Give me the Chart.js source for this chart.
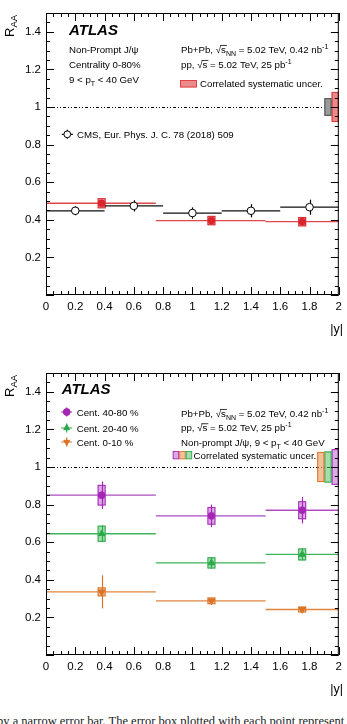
<!DOCTYPE html>
<html>
<head>
<meta charset="utf-8">
<script src="https://cdn.jsdelivr.net/npm/chart.js@4.4.0/dist/chart.umd.min.js"></script>
<style>
  body { margin: 0; background: #fff; width: 347px; height: 724px; overflow: hidden; position: relative; }
  canvas { position: absolute; left: 0; }
  #c1 { top: 0; }
  #c2 { top: 360px; }
  #caption { position: absolute; left: -3px; top: 714px; font: 12.5px "Liberation Serif", serif; white-space: nowrap; color: #222; }
</style>
</head>
<body>
<canvas id="c1" width="347" height="350"></canvas>
<canvas id="c2" width="347" height="350"></canvas>
<div id="caption">by a narrow error bar. The error box plotted with each point represent</div>
<script>
// ---- top panel: centrality 0-80%, ATLAS vs CMS ----
const cmsEdges = [0, 0.4, 0.8, 1.2, 1.6, 2.0];
const cmsX = [0.2, 0.6, 1.0, 1.4, 1.8];
const cmsRaa = [0.448, 0.474, 0.436, 0.448, 0.467];
const cmsErr = [0.024, 0.03, 0.03, 0.035, 0.04];

const atlasEdges = [0, 0.75, 1.5, 2.0];
const atlasX = [0.38, 1.13, 1.75];
const atlasRaa = [0.488, 0.396, 0.39];
const atlasStat = [0.015, 0.012, 0.012];
const atlasSyst = [0.027, 0.025, 0.025];
const corrCms = 0.047;
const corrAtlas = 0.08;

// ---- bottom panel: centrality classes ----
const centLabels = ['Cent. 40-80 %', 'Cent. 20-40 %', 'Cent. 0-10 %'];
const centEdges = [0, 0.75, 1.5, 2.0];
const centX = [0.38, 1.13, 1.75];
const raa4080 = [0.85, 0.74, 0.77];
const stat4080 = [0.073, 0.06, 0.07];
const syst4080 = [0.055, 0.047, 0.048];
const raa2040 = [0.645, 0.49, 0.535];
const stat2040 = [0.045, 0.03, 0.032];
const syst2040 = [0.043, 0.03, 0.032];
const raa010 = [0.336, 0.288, 0.242];
const stat010 = [0.088, 0.012, 0.01];
const syst010 = [0.024, 0.018, 0.016];
const centCorr = [0.095, 0.083, 0.08]; // 40-80, 20-40, 0-10

const xTicks = { min: 0, max: 2, step: 0.2 };
const yTicks = { min: 0, max: 1.5, step: 0.2 };

const FONT = '"Liberation Sans", Arial, sans-serif';
const RED = '#d9252b', PURPLE = '#a526b5', GREEN = '#2ca84a', ORANGE = '#dc7324';

function steps(edges, vals) {
    const pts = [];
    vals.forEach((v, i) => {
        pts.push({ x: edges[i], y: v }, { x: edges[i + 1], y: v }, { x: edges[i + 1], y: null });
    });
    return pts;
}

function pts(xs, ys) {
    return xs.map((x, i) => ({ x: x, y: ys[i] }));
}

// text with _sub, ^sup and ~overlined pieces
function drawRich(ctx, x, y, parts, size) {
    for (const p of parts) {
        let t = p, dy = 0, s = size, over = false;
        if (p[0] === '_') { t = p.slice(1); dy = size * 0.3; s = size * 0.72; }
        else if (p[0] === '^') { t = p.slice(1); dy = -size * 0.42; s = size * 0.72; }
        else if (p[0] === '~') { t = p.slice(1); over = true; }
        ctx.font = s + 'px ' + FONT;
        ctx.fillText(t, x, y + dy);
        const w = ctx.measureText(t).width;
        if (over) {
            ctx.beginPath();
            ctx.moveTo(x - 1, y - size * 0.8 + 0.5);
            ctx.lineTo(x + w + 1, y - size * 0.8 + 0.5);
            ctx.lineWidth = 0.8;
            ctx.stroke();
        }
        x += w;
    }
}

function drawBoxes(chart, set) {
    const { ctx, scales: { x, y } } = chart;
    set.x.forEach((xv, i) => {
        const px = x.getPixelForValue(xv);
        const top = y.getPixelForValue(set.y[i] + set.syst[i]);
        const bot = y.getPixelForValue(set.y[i] - set.syst[i]);
        ctx.fillStyle = set.fill;
        ctx.strokeStyle = set.color;
        ctx.lineWidth = 1;
        ctx.fillRect(px - 4, top, 8, bot - top);
        ctx.strokeRect(px - 4 + 0.5, top + 0.5, 7, bot - top - 1);
    });
}

function drawErrBars(chart, set) {
    const { ctx, scales: { x, y } } = chart;
    ctx.strokeStyle = set.color;
    ctx.lineWidth = 1.2;
    set.x.forEach((xv, i) => {
        const px = Math.round(x.getPixelForValue(xv)) + 0.5;
        ctx.beginPath();
        ctx.moveTo(px, y.getPixelForValue(set.y[i] + set.stat[i]));
        ctx.lineTo(px, y.getPixelForValue(set.y[i] - set.stat[i]));
        ctx.stroke();
    });
}

function drawFrame(chart) {
    const { ctx, chartArea: a, scales: { x, y } } = chart;
    ctx.save();
    ctx.strokeStyle = '#000';
    ctx.lineWidth = 1;
    ctx.strokeRect(a.left + 0.5, a.top + 0.5, a.right - a.left - 1, a.bottom - a.top - 1);
    ctx.beginPath();
    for (let k = 0; k <= 40; k++) {
        const v = k * 0.05;
        const len = k % 4 === 0 ? 8 : 4;
        const px = Math.round(x.getPixelForValue(v)) + 0.5;
        ctx.moveTo(px, a.bottom); ctx.lineTo(px, a.bottom - len);
        ctx.moveTo(px, a.top); ctx.lineTo(px, a.top + len);
    }
    for (let k = 0; k <= 30; k++) {
        const v = k * 0.05;
        const len = k % 4 === 0 ? 8 : 4;
        const py = Math.round(y.getPixelForValue(v)) + 0.5;
        ctx.moveTo(a.left, py); ctx.lineTo(a.left + len, py);
        ctx.moveTo(a.right, py); ctx.lineTo(a.right - len, py);
    }
    ctx.stroke();

    // axis titles
    ctx.fillStyle = '#000';
    ctx.textBaseline = 'alphabetic';
    ctx.save();
    ctx.translate(14, 37);
    ctx.rotate(-Math.PI / 2);
    ctx.font = '13px ' + FONT;
    ctx.fillText('R', 0, 0);
    const wR = ctx.measureText('R').width;
    ctx.font = '9.5px ' + FONT;
    ctx.fillText('AA', wR, 3);
    ctx.restore();
    ctx.font = '12.5px ' + FONT;
    ctx.textAlign = 'right';
    ctx.fillText('|y|', 343, 333);
    ctx.textAlign = 'left';
    ctx.restore();
}

function unityLine(chart) {
    const { ctx, chartArea: a, scales: { y } } = chart;
    const py = Math.round(y.getPixelForValue(1)) + 0.5;
    ctx.save();
    ctx.strokeStyle = '#000';
    ctx.lineWidth = 1;
    ctx.setLineDash([1, 2, 1, 2, 3, 2]);
    ctx.beginPath();
    ctx.moveTo(a.left, py);
    ctx.lineTo(a.right, py);
    ctx.stroke();
    ctx.restore();
}

function corrBoxes(chart, list) {
    // list from right edge inwards: {u, fill, color}
    const { ctx, chartArea: a, scales: { y } } = chart;
    list.forEach((b, i) => {
        const r = a.right - i * 7.2;
        const top = y.getPixelForValue(1 + b.u);
        const bot = y.getPixelForValue(1 - b.u);
        ctx.fillStyle = b.fill;
        ctx.strokeStyle = b.color;
        ctx.lineWidth = 1;
        ctx.fillRect(r - 7.2, top, 7.2, bot - top);
        ctx.strokeRect(r - 7.2 + 0.5, top + 0.5, 6.2, bot - top - 1);
    });
}

function legendMark(ctx, x, y, color, style, rot, bg) {
    ctx.save();
    ctx.strokeStyle = color;
    ctx.lineWidth = 1.2;
    ctx.beginPath();
    ctx.moveTo(x - 5.5, y); ctx.lineTo(x + 5.5, y);
    ctx.moveTo(x, y - 4.5); ctx.lineTo(x, y + 4.5);
    ctx.stroke();
    ctx.fillStyle = bg;
    ctx.lineWidth = 1;
    Chart.helpers.drawPoint(ctx, { pointStyle: style, radius: 3.4, rotation: rot, borderWidth: 1 }, x, y);
    ctx.restore();
}

function makeChart(id, datasets, plugin) {
    return new Chart(document.getElementById(id), {
        type: 'scatter',
        data: { datasets: datasets },
        options: {
            responsive: false,
            animation: false,
            devicePixelRatio: 1,
            layout: { padding: { top: 13, right: 5, left: 0, bottom: 0 } },
            plugins: { legend: { display: false }, tooltip: { enabled: false } },
            scales: {
                x: {
                    type: 'linear', min: xTicks.min, max: xTicks.max,
                    afterFit: (s) => { s.height = 55; },
                    grid: { display: false, drawTicks: false },
                    border: { display: false },
                    ticks: {
                        stepSize: xTicks.step, padding: 5, color: '#000',
                        font: { family: FONT, size: 11.5 },
                        maxRotation: 0, autoSkip: false,
                        callback: (v) => String(+v.toFixed(1))
                    }
                },
                y: {
                    type: 'linear', min: yTicks.min, max: yTicks.max,
                    afterFit: (s) => { s.width = 46; },
                    grid: { display: false, drawTicks: false },
                    border: { display: false },
                    ticks: {
                        stepSize: yTicks.step, padding: 5, color: '#000', includeBounds: false,
                        font: { family: FONT, size: 11.5 },
                        callback: (v) => (v === 0 ? '' : String(+v.toFixed(1)))
                    }
                }
            }
        },
        plugins: [plugin]
    });
}

// ---- top chart ----
const atlasSet = { x: atlasX, y: atlasRaa, stat: atlasStat, syst: atlasSyst, color: RED, fill: 'rgba(226,80,80,0.55)' };
const cmsSet = { x: cmsX, y: cmsRaa, stat: cmsErr, syst: cmsErr.map(() => 0), color: '#000' };

makeChart('c1', [
    { data: pts(atlasX, atlasRaa), pointStyle: 'circle', pointRadius: 3.4, backgroundColor: RED, borderColor: RED, borderWidth: 1 },
    { data: pts(cmsX, cmsRaa), pointStyle: 'circle', pointRadius: 3.8, backgroundColor: '#fff', borderColor: '#000', borderWidth: 1 },
    { data: steps(atlasEdges, atlasRaa), showLine: true, pointRadius: 0, borderColor: '#e0474c', borderWidth: 1.3, spanGaps: false },
    { data: steps(cmsEdges, cmsRaa), showLine: true, pointRadius: 0, borderColor: '#111', borderWidth: 1.3, spanGaps: false }
], {
    id: 'topPanel',
    beforeDatasetsDraw(chart) {
        unityLine(chart);
        corrBoxes(chart, [
            { u: corrAtlas, fill: '#ec8a8a', color: '#d33' },
            { u: corrCms, fill: '#9a9a9a', color: '#4d4d4d' }
        ]);
        drawErrBars(chart, cmsSet);
        drawBoxes(chart, atlasSet);
        drawErrBars(chart, atlasSet);
    },
    afterDraw(chart) {
        const ctx = chart.ctx;
        drawFrame(chart);
        ctx.save();
        ctx.fillStyle = '#000';
        ctx.strokeStyle = '#000';
        ctx.font = 'italic bold 15px ' + FONT;
        ctx.fillText('ATLAS', 69, 35);
        drawRich(ctx, 69, 52.7, ['Non-Prompt J/ψ'], 9.7);
        drawRich(ctx, 69, 67.7, ['Centrality 0-80%'], 9.7);
        drawRich(ctx, 69, 83.3, ['9 < p', '_T', ' < 40 GeV'], 9.7);
        drawRich(ctx, 181, 52.7, ['Pb+Pb, √', '~s', '_NN', ' = 5.02 TeV, 0.42 nb', '^-1'], 9.7);
        drawRich(ctx, 181, 67.7, ['pp, √', '~s', ' = 5.02 TeV, 25 pb', '^-1'], 9.7);
        ctx.fillStyle = '#ec8a8a';
        ctx.fillRect(180, 80, 17, 7.5);
        ctx.strokeStyle = '#d33';
        ctx.strokeRect(180.5, 80.5, 16, 6.5);
        ctx.fillStyle = '#000';
        drawRich(ctx, 200, 87.3, ['Correlated systematic uncer.'], 9.7);
        // CMS legend
        legendMark(ctx, 67.3, 134.3, '#000', 'circle', 0, '#fff');
        ctx.fillStyle = '#000';
        drawRich(ctx, 77, 138.3, ['CMS, Eur. Phys. J. C. 78 (2018) 509'], 9.7);
        ctx.restore();
    }
});

// ---- bottom chart ----
const set4080 = { x: centX, y: raa4080, stat: stat4080, syst: syst4080, color: PURPLE, fill: 'rgba(192,100,210,0.55)' };
const set2040 = { x: centX, y: raa2040, stat: stat2040, syst: syst2040, color: GREEN, fill: 'rgba(90,195,110,0.55)' };
const set010 = { x: centX, y: raa010, stat: stat010, syst: syst010, color: ORANGE, fill: 'rgba(232,150,90,0.6)' };

makeChart('c2', [
    { data: pts(centX, raa4080), pointStyle: 'circle', pointRadius: 3.4, backgroundColor: PURPLE, borderColor: PURPLE },
    { data: pts(centX, raa2040), pointStyle: 'triangle', pointRadius: 3.8, backgroundColor: GREEN, borderColor: GREEN },
    { data: pts(centX, raa010), pointStyle: 'triangle', rotation: 180, pointRadius: 3.8, backgroundColor: ORANGE, borderColor: ORANGE },
    { data: steps(centEdges, raa4080), showLine: true, pointRadius: 0, borderColor: '#b04cc0', borderWidth: 1.3, spanGaps: false },
    { data: steps(centEdges, raa2040), showLine: true, pointRadius: 0, borderColor: '#3cb45a', borderWidth: 1.3, spanGaps: false },
    { data: steps(centEdges, raa010), showLine: true, pointRadius: 0, borderColor: '#e0843f', borderWidth: 1.3, spanGaps: false }
], {
    id: 'bottomPanel',
    beforeDatasetsDraw(chart) {
        unityLine(chart);
        corrBoxes(chart, [
            { u: centCorr[0], fill: 'rgba(192,100,210,0.55)', color: PURPLE },
            { u: centCorr[1], fill: 'rgba(90,195,110,0.55)', color: GREEN },
            { u: centCorr[2], fill: 'rgba(232,150,90,0.6)', color: ORANGE }
        ]);
        [set4080, set2040, set010].forEach((s) => { drawBoxes(chart, s); drawErrBars(chart, s); });
    },
    afterDraw(chart) {
        const ctx = chart.ctx;
        drawFrame(chart);
        ctx.save();
        ctx.fillStyle = '#000';
        ctx.font = 'italic bold 15px ' + FONT;
        ctx.fillText('ATLAS', 61.7, 34.3);
        const marks = [[PURPLE, 'circle', 0], [GREEN, 'triangle', 0], [ORANGE, 'triangle', 180]];
        const ly = [52, 68, 82];
        centLabels.forEach((lab, i) => {
            legendMark(ctx, 66.7, ly[i], marks[i][0], marks[i][1], marks[i][2], marks[i][0]);
            ctx.fillStyle = '#000';
            drawRich(ctx, 76.7, ly[i] + 3.7, [lab], 9.7);
        });
        ctx.strokeStyle = '#000';
        drawRich(ctx, 181, 56.7, ['Pb+Pb, √', '~s', '_NN', ' = 5.02 TeV, 0.42 nb', '^-1'], 9.7);
        drawRich(ctx, 181, 71, ['pp, √', '~s', ' = 5.02 TeV, 25 pb', '^-1'], 9.7);
        drawRich(ctx, 181, 85.7, ['Non-prompt J/ψ, 9 < p', '_T', ' < 40 GeV'], 9.7);
        const lb = [['rgba(192,100,210,0.55)', PURPLE], ['rgba(232,150,90,0.6)', ORANGE], ['rgba(90,195,110,0.55)', GREEN]];
        lb.forEach((b, i) => {
            const bx = 172.7 + i * 6.5;
            ctx.fillStyle = b[0];
            ctx.fillRect(bx, 91, 6.5, 8.3);
            ctx.strokeStyle = b[1];
            ctx.strokeRect(bx + 0.5, 91.5, 5.5, 7.3);
        });
        ctx.fillStyle = '#000';
        drawRich(ctx, 193.5, 98.7, ['Correlated systematic uncer.'], 9.7);
        ctx.restore();
    }
});
</script>
</body>
</html>
